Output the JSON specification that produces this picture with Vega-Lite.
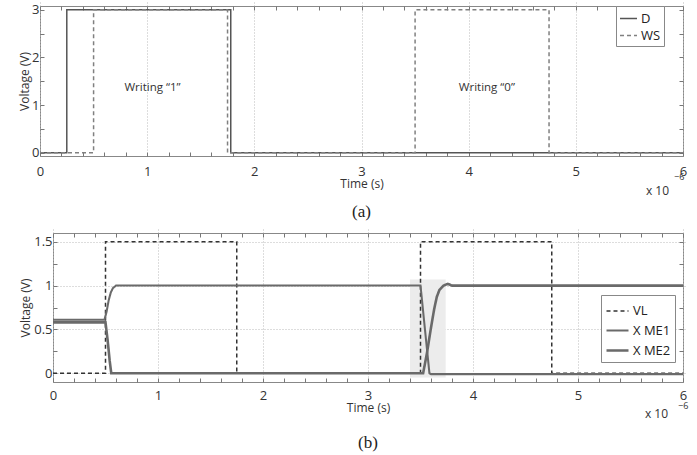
{
  "$schema": "https://vega.github.io/schema/vega-lite/v6.json",
  "background": "white",
  "padding": {"left": 17, "top": 3, "right": 5, "bottom": 3},
  "spacing": 11,
  "columns": 1,
  "align": "none",
  "resolve": {
    "scale": {"color": "independent", "strokeDash": "independent", "strokeWidth": "independent"},
    "legend": {"color": "independent", "strokeDash": "independent", "strokeWidth": "independent"}
  },
  "config": {
    "font": "Open Sans",
    "view": {"stroke": "#888", "strokeWidth": 1},
    "axis": {
      "labelFont": "Open Sans", "labelFontSize": 13, "labelColor": "#333",
      "titleFont": "Open Sans", "titleFontSize": 12, "titleFontWeight": "normal", "titleColor": "#333",
      "domain": false, "tickColor": "#777", "tickSize": 4, "offset": -4, "gridColor": "#bbb", "gridDash": [1, 2],
      "labelFlush": false, "labelOverlap": false
    },
    "legend": {
      "title": null, "orient": "none", "symbolType": "stroke", "strokeColor": "#888", "fillColor": "white",
      "labelFont": "Open Sans", "labelFontSize": 13, "labelColor": "#222", "rowPadding": 0
    }
  },
  "datasets": {
    "top": [
      {"t": 0, "v": 0, "s": "D"}, {"t": 0.25, "v": 3, "s": "D"}, {"t": 1.78, "v": 0, "s": "D"}, {"t": 6, "v": 0, "s": "D"},
      {"t": 0, "v": 0, "s": "WS"}, {"t": 0.5, "v": 3, "s": "WS"}, {"t": 1.75, "v": 0, "s": "WS"}, {"t": 3.5, "v": 3, "s": "WS"}, {"t": 4.75, "v": 0, "s": "WS"}, {"t": 6, "v": 0, "s": "WS"}
    ],
    "topText": [
      {"t": 1.05, "v": 1.36, "label": "Writing “1”"},
      {"t": 4.17, "v": 1.36, "label": "Writing “0”"}
    ],
    "vl": [
      {"t": 0, "v": 0, "s": "VL"}, {"t": 0.5, "v": 1.5, "s": "VL"}, {"t": 1.75, "v": 0, "s": "VL"}, {"t": 3.5, "v": 1.5, "s": "VL"}, {"t": 4.75, "v": 0, "s": "VL"}, {"t": 6, "v": 0, "s": "VL"}
    ],
    "xme": [
      {"t": 0, "v": 0.61, "s": "X ME1"}, {"t": 0.49, "v": 0.61, "s": "X ME1"}, {"t": 0.51, "v": 0.7, "s": "X ME1"}, {"t": 0.53, "v": 0.83, "s": "X ME1"}, {"t": 0.55, "v": 0.92, "s": "X ME1"}, {"t": 0.57, "v": 0.97, "s": "X ME1"}, {"t": 0.6, "v": 1.0, "s": "X ME1"}, {"t": 3.5, "v": 1.0, "s": "X ME1"}, {"t": 3.585, "v": 0.0, "s": "X ME1"}, {"t": 3.6, "v": -0.01, "s": "X ME1"}, {"t": 6, "v": -0.01, "s": "X ME1"},
      {"t": 0, "v": 0.58, "s": "X ME2"}, {"t": 0.5, "v": 0.58, "s": "X ME2"}, {"t": 0.52, "v": 0.38, "s": "X ME2"}, {"t": 0.54, "v": 0.14, "s": "X ME2"}, {"t": 0.555, "v": 0.0, "s": "X ME2"}, {"t": 3.525, "v": 0.0, "s": "X ME2"}, {"t": 3.56, "v": 0.22, "s": "X ME2"}, {"t": 3.6, "v": 0.52, "s": "X ME2"}, {"t": 3.63, "v": 0.73, "s": "X ME2"}, {"t": 3.655, "v": 0.87, "s": "X ME2"}, {"t": 3.68, "v": 0.95, "s": "X ME2"}, {"t": 3.72, "v": 1.0, "s": "X ME2"}, {"t": 3.76, "v": 1.02, "s": "X ME2"}, {"t": 3.8, "v": 1.0, "s": "X ME2"}, {"t": 6, "v": 1.0, "s": "X ME2"}
    ],
    "shade": [{"x1": 3.4, "x2": 3.74, "y1": -0.05, "y2": 1.07}],
    "exp": [{"base": "x 10", "power": "−6"}],
    "blank": [{}]
  },
  "concat": [
    {
      "width": 643, "height": 150,
      "title": {"text": "(a)", "orient": "bottom", "font": "Liberation Serif", "fontSize": 17, "fontWeight": "normal", "color": "#222", "offset": 7},
      "layer": [
        {
          "data": {"name": "top"},
          "mark": {"type": "line", "interpolate": "step-after", "strokeWidth": 1.5},
          "encoding": {
            "x": {"field": "t", "type": "quantitative", "scale": {"domain": [0, 6], "nice": false},
              "axis": {"orient": "bottom", "values": [0,0.2,0.4,0.6,0.8,1,1.2,1.4,1.6,1.8,2,2.2,2.4,2.6,2.8,3,3.2,3.4,3.6,3.8,4,4.2,4.4,4.6,4.8,5,5.2,5.4,5.6,5.8,6],
                "format": "~g", "labelExpr": "datum.value % 1 === 0 ? datum.label : ''", "labelPadding": 9,
                "grid": true, "gridOpacity": {"condition": {"test": "datum.value % 1 === 0", "value": 1}, "value": 0},
                "title": "Time (s)", "titlePadding": 0}},
            "y": {"field": "v", "type": "quantitative", "scale": {"domain": [-0.07, 3.08], "nice": false, "zero": false},
              "axis": {"orient": "left", "values": [0,0.5,1,1.5,2,2.5,3], "format": "~g", "labelExpr": "datum.value % 1 === 0 ? datum.label : ''",
                "labelPadding": 1, "grid": false, "title": "Voltage (V)", "minExtent": 13, "maxExtent": 13, "titlePadding": 0}},
            "color": {"field": "s", "type": "nominal", "scale": {"domain": ["D", "WS"], "range": ["#555555", "#808080"]},
              "legend": {"legendX": 576, "legendY": 0, "symbolSize": 289, "symbolStrokeWidth": 1.5, "padding": 3, "labelOffset": 3}},
            "strokeDash": {"field": "s", "type": "nominal", "scale": {"domain": ["D", "WS"], "range": [[1, 0], [4, 3]]},
              "legend": {"legendX": 576, "legendY": 0, "symbolSize": 289, "symbolStrokeWidth": 1.5, "padding": 3, "labelOffset": 3}}
          }
        },
        {
          "data": {"name": "topText"},
          "mark": {"type": "text", "fontSize": 11.5, "color": "#333", "font": "Open Sans"},
          "encoding": {
            "text": {"field": "label"},
            "x": {"field": "t", "type": "quantitative", "scale": {"domain": [0, 6], "nice": false},
              "axis": {"orient": "top", "values": [0,0.2,0.4,0.6,0.8,1,1.2,1.4,1.6,1.8,2,2.2,2.4,2.6,2.8,3,3.2,3.4,3.6,3.8,4,4.2,4.4,4.6,4.8,5,5.2,5.4,5.6,5.8,6], "labels": false, "grid": false, "title": null}},
            "y": {"field": "v", "type": "quantitative", "scale": {"domain": [-0.07, 3.08], "nice": false, "zero": false},
              "axis": {"orient": "right", "values": [0,0.5,1,1.5,2,2.5,3], "labels": false, "grid": false, "title": null}}
          }
        },
        {
          "data": {"name": "exp"},
          "mark": {"type": "text", "align": "right", "baseline": "middle", "dx": -14, "dy": 35, "fontSize": 12, "color": "#333"},
          "encoding": {
            "text": {"field": "base"},
            "x": {"datum": 6, "type": "quantitative", "axis": null},
            "y": {"datum": -0.07, "type": "quantitative", "axis": null}
          }
        },
        {
          "data": {"name": "exp"},
          "mark": {"type": "text", "align": "left", "baseline": "middle", "dx": -9, "dy": 21, "fontSize": 9, "color": "#333"},
          "encoding": {
            "text": {"field": "power"},
            "x": {"datum": 6, "type": "quantitative", "axis": null},
            "y": {"datum": -0.07, "type": "quantitative", "axis": null}
          }
        }
      ],
      "resolve": {"axis": {"x": "independent", "y": "independent"}}
    },
    {
      "spacing": -26,
      "hconcat": [
        {
          "width": 1, "height": 10,
          "view": {"stroke": null},
          "data": {"name": "blank"},
          "mark": {"type": "point", "opacity": 0},
          "encoding": {}
        },
        {
          "width": 630, "height": 149,
          "title": {"text": "(b)", "orient": "bottom", "font": "Liberation Serif", "fontSize": 17, "fontWeight": "normal", "color": "#222", "offset": 15},
          "layer": [
            {
              "data": {"name": "shade"},
              "mark": {"type": "rect", "color": "#ececec"},
              "encoding": {
                "x": {"field": "x1", "type": "quantitative", "scale": {"domain": [0, 6], "nice": false}, "axis": null},
                "x2": {"field": "x2"},
                "y": {"field": "y1", "type": "quantitative", "scale": {"domain": [-0.1, 1.6], "nice": false, "zero": false}, "axis": null},
                "y2": {"field": "y2"}
              }
            },
            {
              "data": {"name": "vl"},
              "mark": {"type": "line", "interpolate": "step-after"},
              "encoding": {
                "x": {"field": "t", "type": "quantitative", "scale": {"domain": [0, 6], "nice": false},
                  "axis": {"orient": "bottom", "values": [0,0.2,0.4,0.6,0.8,1,1.2,1.4,1.6,1.8,2,2.2,2.4,2.6,2.8,3,3.2,3.4,3.6,3.8,4,4.2,4.4,4.6,4.8,5,5.2,5.4,5.6,5.8,6],
                    "format": "~g", "labelExpr": "datum.value % 1 === 0 ? datum.label : ''", "labelPadding": 7,
                    "grid": true, "gridOpacity": {"condition": {"test": "datum.value % 1 === 0", "value": 1}, "value": 0},
                    "title": "Time (s)", "titlePadding": 0}},
                "y": {"field": "v", "type": "quantitative", "scale": {"domain": [-0.1, 1.6], "nice": false, "zero": false},
                  "axis": {"orient": "left", "values": [0,0.25,0.5,0.75,1,1.25,1.5], "format": "~g", "labelExpr": "datum.value % 0.5 === 0 ? datum.label : ''",
                    "labelPadding": 1, "grid": true, "gridOpacity": {"condition": {"test": "datum.value % 0.5 === 0", "value": 1}, "value": 0},
                    "title": "Voltage (V)", "minExtent": 25, "maxExtent": 25, "titlePadding": 0}},
                "color": {"field": "s", "type": "nominal", "scale": {"domain": ["VL", "X ME1", "X ME2"], "range": ["#333333", "#6a6a6a", "#6a6a6a"]},
                  "legend": {"legendX": 561, "legendY": 62, "symbolSize": 484, "symbolStrokeWidth": 2, "padding": 4, "labelOffset": 3}},
                "strokeDash": {"field": "s", "type": "nominal", "scale": {"domain": ["VL", "X ME1", "X ME2"], "range": [[4, 3], [1, 0], [1, 0]]},
                  "legend": {"legendX": 561, "legendY": 62, "symbolSize": 484, "symbolStrokeWidth": 2, "padding": 4, "labelOffset": 3}},
                "strokeWidth": {"field": "s", "type": "nominal", "scale": {"domain": ["VL", "X ME1", "X ME2"], "range": [1.5, 2.6, 2.6]},
                  "legend": {"legendX": 561, "legendY": 62, "symbolSize": 484, "padding": 4, "labelOffset": 3}}
              }
            },
            {
              "data": {"name": "xme"},
              "mark": {"type": "line"},
              "encoding": {
                "x": {"field": "t", "type": "quantitative", "scale": {"domain": [0, 6], "nice": false}, "axis": null},
                "y": {"field": "v", "type": "quantitative", "scale": {"domain": [-0.1, 1.6], "nice": false, "zero": false}, "axis": null},
                "color": {"field": "s", "type": "nominal", "scale": {"domain": ["VL", "X ME1", "X ME2"], "range": ["#333333", "#6a6a6a", "#6a6a6a"]},
                  "legend": {"legendX": 561, "legendY": 62, "symbolSize": 484, "symbolStrokeWidth": 2, "padding": 4, "labelOffset": 3}},
                "strokeDash": {"field": "s", "type": "nominal", "scale": {"domain": ["VL", "X ME1", "X ME2"], "range": [[4, 3], [1, 0], [1, 0]]},
                  "legend": {"legendX": 561, "legendY": 62, "symbolSize": 484, "symbolStrokeWidth": 2, "padding": 4, "labelOffset": 3}},
                "strokeWidth": {"field": "s", "type": "nominal", "scale": {"domain": ["VL", "X ME1", "X ME2"], "range": [1.5, 2.6, 2.6]},
                  "legend": {"legendX": 561, "legendY": 62, "symbolSize": 484, "padding": 4, "labelOffset": 3}}
              }
            },
            {
              "data": {"name": "exp"},
              "mark": {"type": "text", "opacity": 0},
              "encoding": {
                "x": {"datum": 6, "type": "quantitative",
                  "axis": {"orient": "top", "values": [0,0.2,0.4,0.6,0.8,1,1.2,1.4,1.6,1.8,2,2.2,2.4,2.6,2.8,3,3.2,3.4,3.6,3.8,4,4.2,4.4,4.6,4.8,5,5.2,5.4,5.6,5.8,6], "labels": false, "grid": false, "title": null}},
                "y": {"datum": 0, "type": "quantitative",
                  "axis": {"orient": "right", "values": [0,0.25,0.5,0.75,1,1.25,1.5], "labels": false, "grid": false, "title": null}},
                "text": {"field": "base"}
              }
            },
            {
              "data": {"name": "exp"},
              "mark": {"type": "text", "align": "right", "baseline": "middle", "dx": -15, "dy": 32, "fontSize": 12, "color": "#333"},
              "encoding": {
                "text": {"field": "base"},
                "x": {"datum": 6, "type": "quantitative", "axis": null},
                "y": {"datum": -0.1, "type": "quantitative", "axis": null}
              }
            },
            {
              "data": {"name": "exp"},
              "mark": {"type": "text", "align": "left", "baseline": "middle", "dx": -5, "dy": 24, "fontSize": 9, "color": "#333"},
              "encoding": {
                "text": {"field": "power"},
                "x": {"datum": 6, "type": "quantitative", "axis": null},
                "y": {"datum": -0.1, "type": "quantitative", "axis": null}
              }
            }
          ],
          "resolve": {"axis": {"x": "independent", "y": "independent"}}
        }
      ]
    }
  ]
}
